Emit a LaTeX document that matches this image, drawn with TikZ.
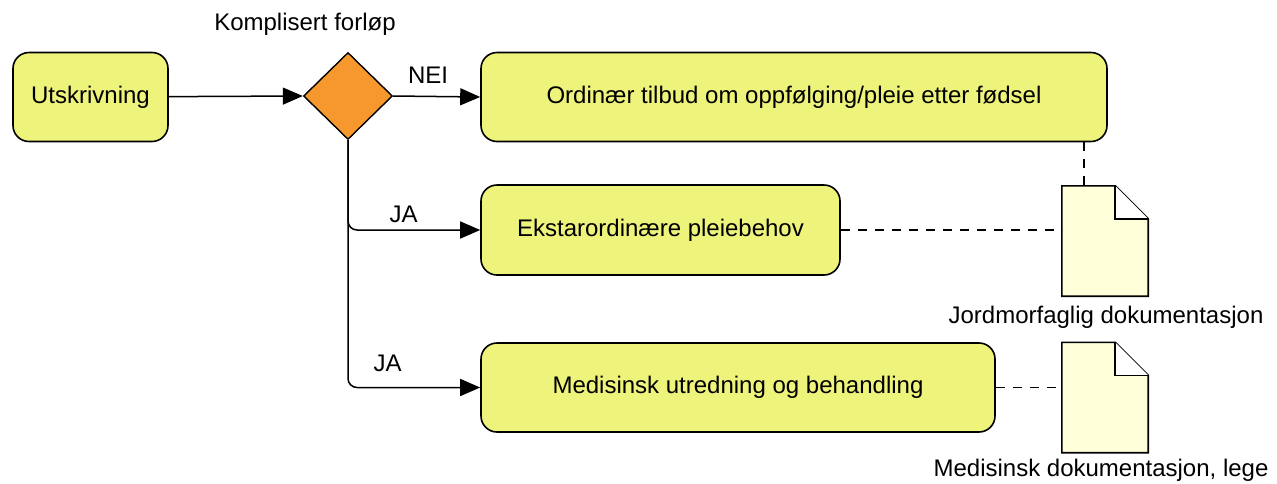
\documentclass[tikz,border=0pt]{standalone}
\usepackage{fontspec}
\setmainfont{Liberation Sans}
\usetikzlibrary{calc,arrows.meta,shapes.geometric}

\definecolor{boxfill}{RGB}{238,243,124}
\definecolor{gatefill}{RGB}{247,152,47}
\definecolor{docfill}{RGB}{255,255,218}

\begin{document}
\begin{tikzpicture}[
  x=1pt, y=-1pt,
  every node/.style={font=\fontsize{24}{28}\selectfont},
  task/.style={rectangle, draw=black, fill=boxfill, line width=1.6pt, rounded corners=16pt, text centered, minimum height=89pt},
  gate/.style={diamond, draw=black, fill=gatefill, line width=1.4pt, inner sep=0pt, minimum width=89pt, minimum height=87pt},
  docbox/.style={rectangle, inner sep=0pt, minimum width=86pt, minimum height=110pt},
  flow/.style={draw, line width=1.5pt, -{Triangle[length=20pt, width=17pt]}},
  assoc/.style={draw, line width=1.4pt, dash pattern=on 9pt off 8pt}
]
  \useasboundingbox (0,0) rectangle (1277,483);

  % Start
  \node[task, minimum width=155pt] (utskr) at (90.5,97) {Utskrivning};

  % Decision
  \node[gate] (gate) at (348,96) {};
  \node (gatelbl) at (305,24) {Komplisert forløp};

  % Tasks
  \node[task, minimum width=626pt] (ordin) at (794,97) {Ordinær tilbud om oppfølging/pleie etter fødsel};
  \node[task, minimum width=359pt, minimum height=90pt] (ekstra) at (660.5,230) {Ekstarordinære pleiebehov};
  \node[task, minimum width=514pt] (medis) at (738,387.5) {Medisinsk utredning og behandling};

  % Documents
  \node[docbox] (doc1) at (1105,241) {};
  \node[docbox] (doc2) at (1105,397.5) {};
  \foreach \d in {doc1,doc2}{
    \filldraw[fill=docfill, line width=1.6pt, line join=miter]
      (\d.north west) -- ($(\d.north east)+(-33,0)$) -- ($(\d.north east)+(0,33)$)
      -- (\d.south east) -- (\d.south west) -- cycle;
    \filldraw[fill=white, line width=1.6pt, line join=miter]
      ($(\d.north east)+(-33,0)$) -- ($(\d.north east)+(-33,33)$) -- ($(\d.north east)+(0,33)$);
  }
  \node (doc1lbl) at (1106,317) {Jordmorfaglig dokumentasjon};
  \node (doc2lbl) at (1101,470) {Medisinsk dokumentasjon, lege};

  % Sequence flows
  \draw[flow] (utskr) -- (gate.west);
  \draw[flow] (gate.east) -- (ordin.west) node[pos=0.4, above=9pt] {NEI};
  \draw[flow, rounded corners=9pt] (gate.south) |- (ekstra.west) node[pos=0.71, above=3pt] {JA};
  \draw[flow, rounded corners=9pt] (gate.south) |- (medis.west) node[pos=0.65, above=12pt] {JA};

  % Associations
  \coordinate (d1top) at ($(doc1.north west)+(22,0)$);
  \draw[assoc] (d1top |- ordin.south) -- (d1top);
  \draw[assoc] (ekstra.east) -- (doc1.west |- ekstra.east);
  \draw[assoc] (medis.east) -- (doc2.west |- medis.east);
\end{tikzpicture}
\end{document}
